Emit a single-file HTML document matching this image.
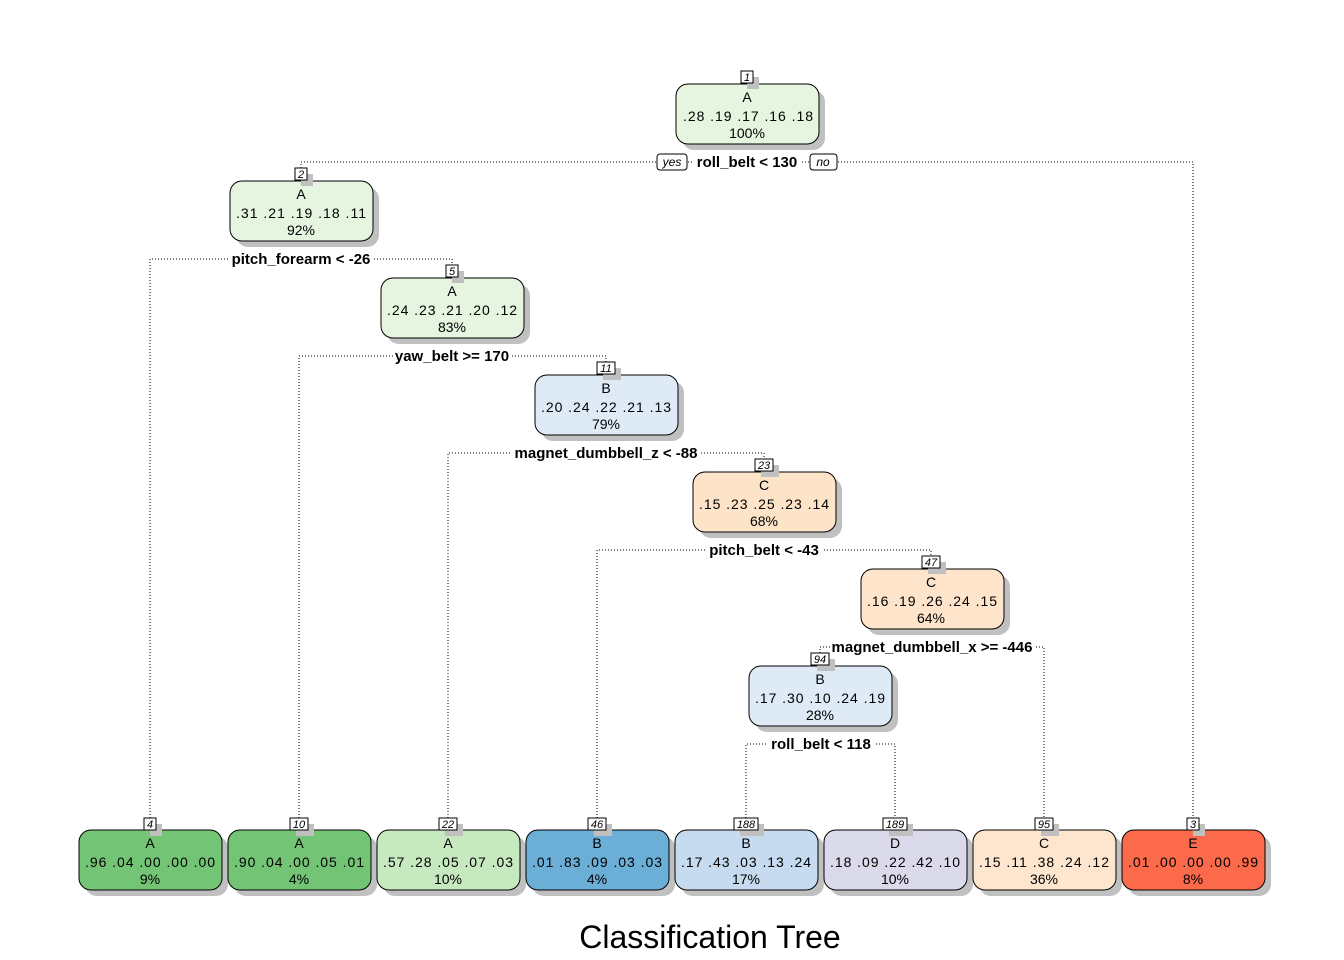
<!DOCTYPE html>
<html><head><meta charset="utf-8"><style>
html,body{margin:0;padding:0;background:#fff;}
svg{display:block;font-family:"Liberation Sans",Arial,sans-serif;}
.e{fill:none;stroke:#000;stroke-width:1;stroke-dasharray:1,2;}
.sh{fill:#c0c0c0;}
.bx{stroke:#000;stroke-width:1;}
.t{font-size:14px;text-anchor:middle;fill:#000;}
.n{font-size:11px;font-style:italic;text-anchor:middle;}
.s{font-size:15px;font-weight:bold;text-anchor:middle;}
</style></head><body>
<svg width="1344" height="960" viewBox="0 0 1344 960">
<path class="e" d="M301 168 V162 H1193 V818"/>
<path class="e" d="M150 818 V259 H452 V265"/>
<path class="e" d="M299 818 V356 H606 V362"/>
<path class="e" d="M448 818 V453 H764 V459"/>
<path class="e" d="M597 818 V550 H931 V556"/>
<path class="e" d="M820 653 V647 H1044 V818"/>
<path class="e" d="M746 818 V744 H895 V818"/>

<rect x="694" y="152" width="106" height="18" fill="#fff"/>
<text class="s" x="747" y="167">roll_belt &lt; 130</text>
<rect x="657" y="154" width="30" height="16" rx="3" fill="#fff" stroke="#000"/>
<text class="n" x="672" y="166" style="font-size:12px">yes</text>
<rect x="810" y="154" width="27" height="16" rx="3" fill="#fff" stroke="#000"/>
<text class="n" x="823" y="166" style="font-size:12px">no</text>

<rect x="229" y="249" width="144" height="18" fill="#fff"/>
<text class="s" x="301" y="264">pitch_forearm &lt; -26</text>
<rect x="393" y="346" width="119" height="18" fill="#fff"/>
<text class="s" x="452" y="361">yaw_belt &gt;= 170</text>
<rect x="512" y="443" width="188" height="18" fill="#fff"/>
<text class="s" x="606" y="458">magnet_dumbbell_z &lt; -88</text>
<rect x="706" y="540" width="116" height="18" fill="#fff"/>
<text class="s" x="764" y="555">pitch_belt &lt; -43</text>
<rect x="830" y="637" width="204" height="18" fill="#fff"/>
<text class="s" x="932" y="652">magnet_dumbbell_x &gt;= -446</text>
<rect x="767" y="734" width="108" height="18" fill="#fff"/>
<text class="s" x="821" y="749">roll_belt &lt; 118</text>

<rect class="sh" x="682" y="90" width="143" height="60" rx="12"/>
<rect class="bx" x="676" y="84" width="143" height="60" rx="12" fill="#e5f5e0"/>
<rect x="747" y="77" width="12" height="12" class="sh"/>
<rect x="741" y="71" width="12" height="12" fill="#fff" stroke="#000"/>
<text class="n" x="747" y="81">1</text>
<text class="t" x="747" y="102">A</text><text class="t" x="748" y="121" textLength="130" lengthAdjust="spacing">.28 .19 .17 .16 .18</text><text class="t" x="747" y="138">100%</text>

<rect class="sh" x="236" y="187" width="143" height="60" rx="12"/>
<rect class="bx" x="230" y="181" width="143" height="60" rx="12" fill="#e5f5e0"/>
<rect x="301" y="174" width="12" height="12" class="sh"/>
<rect x="295" y="168" width="12" height="12" fill="#fff" stroke="#000"/>
<text class="n" x="301" y="178">2</text>
<text class="t" x="301" y="199">A</text><text class="t" x="301" y="218" textLength="130" lengthAdjust="spacing">.31 .21 .19 .18 .11</text><text class="t" x="301" y="235">92%</text>

<rect class="sh" x="387" y="284" width="143" height="60" rx="12"/>
<rect class="bx" x="381" y="278" width="143" height="60" rx="12" fill="#e5f5e0"/>
<rect x="452" y="271" width="12" height="12" class="sh"/>
<rect x="446" y="265" width="12" height="12" fill="#fff" stroke="#000"/>
<text class="n" x="452" y="275">5</text>
<text class="t" x="452" y="296">A</text><text class="t" x="452" y="315" textLength="130" lengthAdjust="spacing">.24 .23 .21 .20 .12</text><text class="t" x="452" y="332">83%</text>

<rect class="sh" x="541" y="381" width="143" height="60" rx="12"/>
<rect class="bx" x="535" y="375" width="143" height="60" rx="12" fill="#deebf7"/>
<rect x="603" y="368" width="18" height="12" class="sh"/>
<rect x="597" y="362" width="18" height="12" fill="#fff" stroke="#000"/>
<text class="n" x="606" y="372">11</text>
<text class="t" x="606" y="393">B</text><text class="t" x="606" y="412" textLength="130" lengthAdjust="spacing">.20 .24 .22 .21 .13</text><text class="t" x="606" y="429">79%</text>

<rect class="sh" x="699" y="478" width="143" height="60" rx="12"/>
<rect class="bx" x="693" y="472" width="143" height="60" rx="12" fill="#fde3c8"/>
<rect x="761" y="465" width="18" height="12" class="sh"/>
<rect x="755" y="459" width="18" height="12" fill="#fff" stroke="#000"/>
<text class="n" x="764" y="469">23</text>
<text class="t" x="764" y="490">C</text><text class="t" x="764" y="509" textLength="130" lengthAdjust="spacing">.15 .23 .25 .23 .14</text><text class="t" x="764" y="526">68%</text>

<rect class="sh" x="867" y="575" width="143" height="60" rx="12"/>
<rect class="bx" x="861" y="569" width="143" height="60" rx="12" fill="#fee4ca"/>
<rect x="928" y="562" width="18" height="12" class="sh"/>
<rect x="922" y="556" width="18" height="12" fill="#fff" stroke="#000"/>
<text class="n" x="931" y="566">47</text>
<text class="t" x="931" y="587">C</text><text class="t" x="932" y="606" textLength="130" lengthAdjust="spacing">.16 .19 .26 .24 .15</text><text class="t" x="931" y="623">64%</text>

<rect class="sh" x="755" y="672" width="143" height="60" rx="12"/>
<rect class="bx" x="749" y="666" width="143" height="60" rx="12" fill="#deebf7"/>
<rect x="817" y="659" width="18" height="12" class="sh"/>
<rect x="811" y="653" width="18" height="12" fill="#fff" stroke="#000"/>
<text class="n" x="820" y="663">94</text>
<text class="t" x="820" y="684">B</text><text class="t" x="820" y="703" textLength="130" lengthAdjust="spacing">.17 .30 .10 .24 .19</text><text class="t" x="820" y="720">28%</text>

<rect class="sh" x="85" y="836" width="143" height="60" rx="12"/>
<rect class="bx" x="79" y="830" width="143" height="60" rx="12" fill="#74c476"/>
<rect x="150" y="824" width="12" height="12" class="sh"/>
<rect x="144" y="818" width="12" height="12" fill="#fff" stroke="#000"/>
<text class="n" x="150" y="828">4</text>
<text class="t" x="150" y="848">A</text><text class="t" x="150" y="867" textLength="130" lengthAdjust="spacing">.96 .04 .00 .00 .00</text><text class="t" x="150" y="884">9%</text>

<rect class="sh" x="234" y="836" width="143" height="60" rx="12"/>
<rect class="bx" x="228" y="830" width="143" height="60" rx="12" fill="#74c476"/>
<rect x="296" y="824" width="18" height="12" class="sh"/>
<rect x="290" y="818" width="18" height="12" fill="#fff" stroke="#000"/>
<text class="n" x="299" y="828">10</text>
<text class="t" x="299" y="848">A</text><text class="t" x="299" y="867" textLength="130" lengthAdjust="spacing">.90 .04 .00 .05 .01</text><text class="t" x="299" y="884">4%</text>

<rect class="sh" x="383" y="836" width="143" height="60" rx="12"/>
<rect class="bx" x="377" y="830" width="143" height="60" rx="12" fill="#c7e9c0"/>
<rect x="445" y="824" width="18" height="12" class="sh"/>
<rect x="439" y="818" width="18" height="12" fill="#fff" stroke="#000"/>
<text class="n" x="448" y="828">22</text>
<text class="t" x="448" y="848">A</text><text class="t" x="448" y="867" textLength="130" lengthAdjust="spacing">.57 .28 .05 .07 .03</text><text class="t" x="448" y="884">10%</text>

<rect class="sh" x="532" y="836" width="143" height="60" rx="12"/>
<rect class="bx" x="526" y="830" width="143" height="60" rx="12" fill="#6baed6"/>
<rect x="594" y="824" width="18" height="12" class="sh"/>
<rect x="588" y="818" width="18" height="12" fill="#fff" stroke="#000"/>
<text class="n" x="597" y="828">46</text>
<text class="t" x="597" y="848">B</text><text class="t" x="597" y="867" textLength="130" lengthAdjust="spacing">.01 .83 .09 .03 .03</text><text class="t" x="597" y="884">4%</text>

<rect class="sh" x="681" y="836" width="143" height="60" rx="12"/>
<rect class="bx" x="675" y="830" width="143" height="60" rx="12" fill="#c6dbef"/>
<rect x="740" y="824" width="24" height="12" class="sh"/>
<rect x="734" y="818" width="24" height="12" fill="#fff" stroke="#000"/>
<text class="n" x="746" y="828">188</text>
<text class="t" x="746" y="848">B</text><text class="t" x="746" y="867" textLength="130" lengthAdjust="spacing">.17 .43 .03 .13 .24</text><text class="t" x="746" y="884">17%</text>

<rect class="sh" x="830" y="836" width="143" height="60" rx="12"/>
<rect class="bx" x="824" y="830" width="143" height="60" rx="12" fill="#dadaeb"/>
<rect x="889" y="824" width="24" height="12" class="sh"/>
<rect x="883" y="818" width="24" height="12" fill="#fff" stroke="#000"/>
<text class="n" x="895" y="828">189</text>
<text class="t" x="895" y="848">D</text><text class="t" x="895" y="867" textLength="130" lengthAdjust="spacing">.18 .09 .22 .42 .10</text><text class="t" x="895" y="884">10%</text>

<rect class="sh" x="979" y="836" width="143" height="60" rx="12"/>
<rect class="bx" x="973" y="830" width="143" height="60" rx="12" fill="#fee6ce"/>
<rect x="1041" y="824" width="18" height="12" class="sh"/>
<rect x="1035" y="818" width="18" height="12" fill="#fff" stroke="#000"/>
<text class="n" x="1044" y="828">95</text>
<text class="t" x="1044" y="848">C</text><text class="t" x="1044" y="867" textLength="130" lengthAdjust="spacing">.15 .11 .38 .24 .12</text><text class="t" x="1044" y="884">36%</text>

<rect class="sh" x="1128" y="836" width="143" height="60" rx="12"/>
<rect class="bx" x="1122" y="830" width="143" height="60" rx="12" fill="#fb6a4a"/>
<rect x="1193" y="824" width="12" height="12" class="sh"/>
<rect x="1187" y="818" width="12" height="12" fill="#fff" stroke="#000"/>
<text class="n" x="1193" y="828">3</text>
<text class="t" x="1193" y="848">E</text><text class="t" x="1193" y="867" textLength="130" lengthAdjust="spacing">.01 .00 .00 .00 .99</text><text class="t" x="1193" y="884">8%</text>

<text x="710" y="948" style="font-size:32px;text-anchor:middle">Classification Tree</text>
</svg>
</body></html>
